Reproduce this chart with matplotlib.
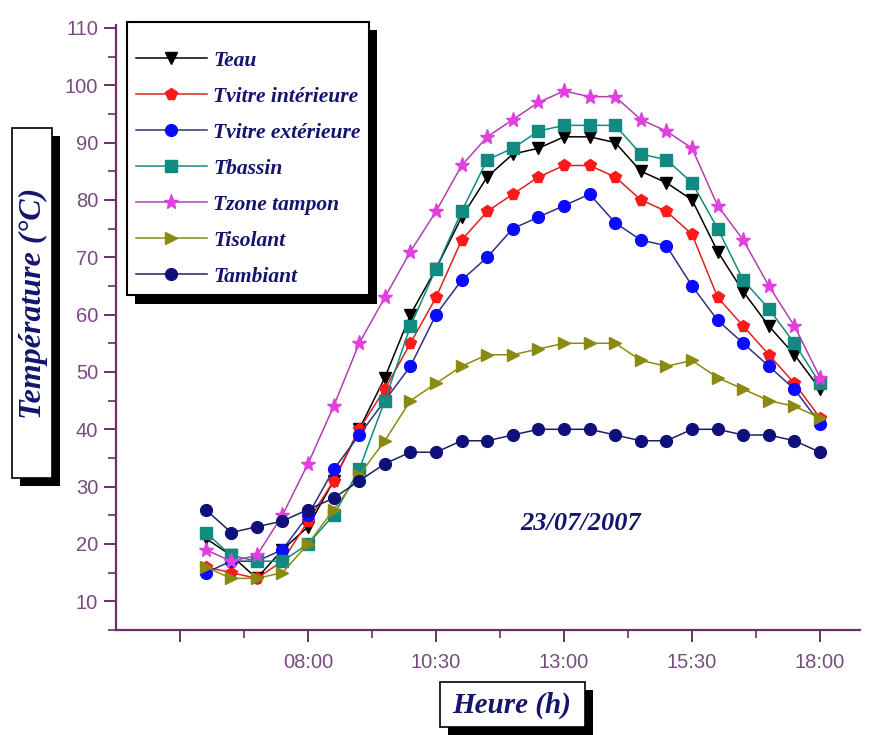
import matplotlib.pyplot as plt
import matplotlib.patheffects as pe
from matplotlib.patches import Rectangle
from matplotlib.ticker import FixedLocator, MultipleLocator

# heures de mesure (h decimales)
heures = [6.0, 6.5, 7.0, 7.5, 8.0, 8.5, 9.0, 9.5, 10.0, 10.5, 11.0, 11.5, 12.0,
          12.5, 13.0, 13.5, 14.0, 14.5, 15.0, 15.5, 16.0, 16.5, 17.0, 17.5, 18.0]

t_eau = [21, 18, 14, 19, 23, 31, 40, 49, 60, 68, 77, 84, 88, 89, 91, 91, 90, 85, 83, 80, 71, 64, 58, 53, 47]
t_vitre_int = [16, 15, 14, 17, 24, 31, 40, 47, 55, 63, 73, 78, 81, 84, 86, 86, 84, 80, 78, 74, 63, 58, 53, 48, 42]
t_vitre_ext = [15, 17, 17, 19, 25, 33, 39, 45, 51, 60, 66, 70, 75, 77, 79, 81, 76, 73, 72, 65, 59, 55, 51, 47, 41]
t_bassin = [22, 18, 17, 17, 20, 25, 33, 45, 58, 68, 78, 87, 89, 92, 93, 93, 93, 88, 87, 83, 75, 66, 61, 55, 48]
t_zone = [19, 17, 18, 25, 34, 44, 55, 63, 71, 78, 86, 91, 94, 97, 99, 98, 98, 94, 92, 89, 79, 73, 65, 58, 49]
t_isolant = [16, 14, 14, 15, 20, 26, 32, 38, 45, 48, 51, 53, 53, 54, 55, 55, 55, 52, 51, 52, 49, 47, 45, 44, 42]
t_ambiant = [26, 22, 23, 24, 26, 28, 31, 34, 36, 36, 38, 38, 39, 40, 40, 40, 39, 38, 38, 40, 40, 39, 39, 38, 36]

x_ticks = [5.5, 8.0, 10.5, 13.0, 15.5, 18.0]
x_labels = ['', '08:00', '10:30', '13:00', '15:30', '18:00']

series = [
    ("Teau", t_eau, 'v', 'black', 'black'),
    ("Tvitre intérieure", t_vitre_int, 'p', '#ff1a1a', '#e02020'),
    ("Tvitre extérieure", t_vitre_ext, 'o', '#0a0aff', '#303080'),
    ("Tbassin", t_bassin, 's', '#128a80', '#128a80'),
    ("Tzone tampon", t_zone, '*', '#e040e0', '#b040b0'),
    ("Tisolant", t_isolant, '>', '#8a8a10', '#8a8a10'),
    ("Tambiant", t_ambiant, 'o', '#10107a', '#202060'),
]

axe = '#6a306a'
texte = '#14146e'
serif = ['Liberation Serif', 'DejaVu Serif']
plt.rcParams['font.family'] = ['Liberation Sans', 'DejaVu Sans']

fig = plt.figure(figsize=(8.76, 7.35), dpi=100)
ax = fig.add_axes([116/876, 1-630/735, 744/876, 605/735])

for nom, y, m, c, lc in series:
    ms = 11 if m == '*' else 8.5
    ax.plot(heures, y, marker=m, color=lc, mfc=c, mec=c, ms=ms, lw=1.1, label=nom)

ax.set_xlim(4.25, 18.78)
ax.set_ylim(5.0, 110.5)
ax.xaxis.set_major_locator(FixedLocator(x_ticks))
ax.set_xticklabels(x_labels)
ax.xaxis.set_minor_locator(FixedLocator([6.75, 9.25, 11.75, 14.25, 16.75]))
ax.yaxis.set_major_locator(FixedLocator(range(10, 111, 10)))
ax.yaxis.set_minor_locator(MultipleLocator(5))

for s in ['top', 'right']:
    ax.spines[s].set_visible(False)
for s in ['left', 'bottom']:
    ax.spines[s].set_color(axe)
    ax.spines[s].set_linewidth(1.6)
ax.tick_params(which='major', length=8.5, width=1.4, color=axe, labelcolor='#7a4a82', labelsize=14.5, pad=4.3)
ax.tick_params(which='minor', length=5.5, width=1.2, color=axe)
ax.tick_params(axis='x', which='major', pad=8)

leg = ax.legend(loc='upper left', bbox_to_anchor=(127/876, 1-22/735), bbox_transform=fig.transFigure,
                borderaxespad=0, fancybox=False, framealpha=1, edgecolor='black',
                handlelength=3.3, handletextpad=0.3, labelspacing=0.74, borderpad=0.4,
                title=' ', title_fontsize=3,
                prop={'family': serif, 'weight': 'bold', 'style': 'italic', 'size': 15.5})
for t in leg.get_texts():
    t.set_color(texte)
leg.get_frame().set_linewidth(1.5)
leg.get_frame().set_path_effects([pe.SimplePatchShadow(offset=(6, -6), shadow_rgbFace='black', alpha=1), pe.Normal()])

ax.text(13.33, 23.6, "23/07/2007", ha='center', va='center', color=texte,
        family=serif, weight='bold', style='italic', fontsize=19)

ombre = [pe.SimplePatchShadow(offset=(6, -6), shadow_rgbFace='black', alpha=1), pe.Normal()]

# boite titre axe y
r = Rectangle((12/876, 1-478/735), 40/876, 350/735, transform=fig.transFigure,
              fc='white', ec='black', lw=1.2, path_effects=ombre)
fig.patches.append(r)
fig.text(33/876, 1-303/735, "Température (°C)", rotation=90, ha='center', va='center',
         color=texte, family=serif, weight='bold', style='italic', fontsize=23)

# boite titre axe x
r2 = Rectangle((440/876, 1-727/735), 145/876, 45/735, transform=fig.transFigure,
               fc='white', ec='black', lw=1.2, path_effects=ombre)
fig.patches.append(r2)
fig.text(512/876, 1-705/735, "Heure (h)", ha='center', va='center',
         color=texte, family=serif, weight='bold', style='italic', fontsize=21)

fig.savefig("out.png", dpi=100)
plt.close()
